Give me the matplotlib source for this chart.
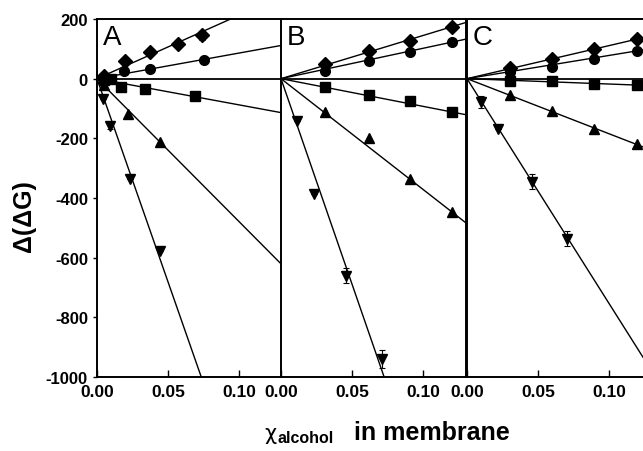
import numpy as np
import matplotlib
matplotlib.use('Agg')
import matplotlib.pyplot as plt

plt.rcParams['font.family'] = ['Liberation Sans', 'DejaVu Sans']
plt.rcParams['axes.unicode_minus'] = False

# panel A
a_dia_x = [0.005, 0.020, 0.037, 0.057, 0.074]
a_dia_y = [8, 60, 88, 116, 146]
a_dia_e = [0, 0, 0, 12, 15]
a_cir_x = [0.005, 0.019, 0.037, 0.075]
a_cir_y = [4, 27, 32, 63]
a_sq_x = [0.005, 0.010, 0.017, 0.034, 0.069]
a_sq_y = [-3, -2, -29, -35, -59]
a_up_x = [0.005, 0.022, 0.044]
a_up_y = [-22, -118, -213]
a_dn_x = [0.004, 0.009, 0.023, 0.044]
a_dn_y = [-68, -157, -336, -577]
a_dn_e = [0, 12, 0, 0]
a_slopes = [2130, 860, -880, -4800, -13650]

# panel B
b_x = [0.031, 0.0615, 0.091, 0.120]
b_dia_y = [49, 94, 127, 172]
b_cir_y = [27, 60, 88, 122]
b_sq_y = [-29, -54, -74, -113]
b_up_y = [-113, -200, -336, -448]
b_dn_x = [0.011, 0.023, 0.046, 0.071]
b_dn_y = [-141, -387, -660, -940]
b_dn_e = [0, 0, 25, 30]
b_slopes = [1450, 1020, -930, -3720, -13800]

# panel C
c_x = [0.030, 0.060, 0.089, 0.1195]
c_dia_y = [36, 66, 100, 133]
c_cir_y = [21, 38, 66, 94]
c_sq_y = [-7, -8, -18, -21]
c_up_y = [-55, -110, -169, -219]
c_dn_x = [0.010, 0.022, 0.0455, 0.070]
c_dn_y = [-79, -169, -345, -537]
c_dn_e = [20, 0, 25, 25]
c_slopes = [1110, 780, -180, -1850, -7550]

panels = [
    ('A', [(a_dia_x, a_dia_y, a_dia_e), (a_cir_x, a_cir_y, None), (a_sq_x, a_sq_y, None),
           (a_up_x, a_up_y, None), (a_dn_x, a_dn_y, a_dn_e)], a_slopes),
    ('B', [(b_x, b_dia_y, None), (b_x, b_cir_y, None), (b_x, b_sq_y, None),
           (b_x, b_up_y, None), (b_dn_x, b_dn_y, b_dn_e)], b_slopes),
    ('C', [(c_x, c_dia_y, None), (c_x, c_cir_y, None), (c_x, c_sq_y, None),
           (c_x, c_up_y, None), (c_dn_x, c_dn_y, c_dn_e)], c_slopes),
]
markers = [('D', 7), ('o', 7), ('s', 6.5), ('^', 7.5), ('v', 7.5)]

W, H = 643, 452
fig = plt.figure(figsize=(W / 100, H / 100), dpi=100)
lefts = [97, 281, 467]
aw = 185
bottom = 1 - 378 / H
ah = 358 / H

for i, (name, series, slopes) in enumerate(panels):
    ax = fig.add_axes([lefts[i] / W, bottom, aw / W, ah])
    ax.set_xlim(0, 0.13)
    ax.set_ylim(-1000, 200)
    ax.axhline(0, color='k', lw=1.3)
    for (xs, ys, es), (m, ms), s in zip(series, markers, slopes):
        ax.axline((0, 0), slope=s, color='k', lw=1.0)
        ax.errorbar(xs, ys, yerr=es, fmt=m, color='k', ms=ms, capsize=2.5,
                    elinewidth=0.8, capthick=0.8)
    for sp in ax.spines.values():
        sp.set_linewidth(1.4)
    ax.set_xticks([0.0, 0.05, 0.10])
    ax.set_xticklabels(['0.00', '0.05', '0.10'])
    ax.tick_params(axis='x', direction='in', length=5, width=1, labelsize=12.5, pad=5)
    for lb in ax.get_xticklabels():
        lb.set_fontweight('bold')
    if i == 0:
        ax.set_yticks([200, 0, -200, -400, -600, -800, -1000])
        ax.tick_params(axis='y', direction='out', length=3, width=1, labelsize=12)
        for lb in ax.get_yticklabels():
            lb.set_fontweight('bold')
    else:
        ax.set_yticks([])
    ax.text(0.03, 0.985, name, transform=ax.transAxes, fontsize=20, va='top', ha='left')

fig.text(24 / W, 1 - 216 / H, 'Δ(ΔG)', rotation=90, fontsize=18, fontweight='bold',
         ha='center', va='center')
fig.text(264 / W, 1 - 440 / H, 'χ', fontsize=15, family='DejaVu Sans', ha='left', va='baseline')
fig.text(277 / W, 1 - 443 / H, 'alcohol', fontsize=11.5, fontweight='bold', ha='left', va='baseline')
fig.text(354 / W, 1 - 440 / H, 'in membrane', fontsize=18, fontweight='bold', ha='left', va='baseline')

fig.savefig('out.png', dpi=100)
